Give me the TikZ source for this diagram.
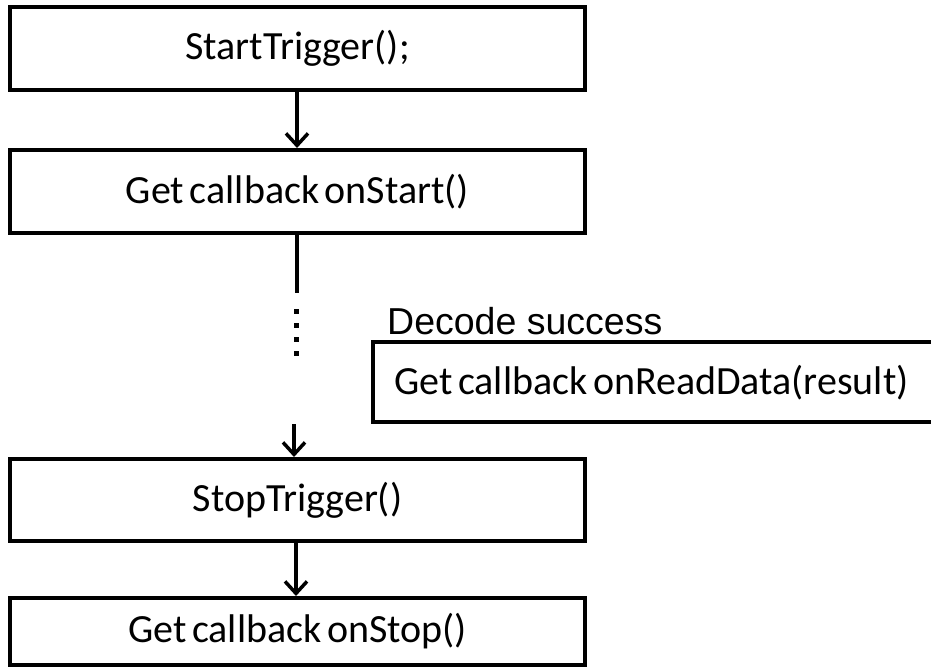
\documentclass[tikz,border=0pt]{standalone}
\usepackage{fontspec}
\setmainfont{Carlito}
\newfontfamily\arialfont{Liberation Sans}
\usetikzlibrary{arrows.meta}
\newcommand\mynarrowsp{\spaceskip=0.14em\relax}
\begin{document}
\begin{tikzpicture}[x=1pt,y=-1pt,
  cfont/.style={font=\fontsize{40}{44}\selectfont, execute at begin node=\mynarrowsp},
  box/.style={draw=black, line width=4pt, rectangle, inner sep=0pt, cfont},
  flow/.style={line width=3.5pt, -{Straight Barb[length=12pt,width=22pt,line width=3.5pt]}},
  plain/.style={line width=3.5pt}]
\clip (0,0) rectangle (931,668);
\fill[white] (0,0) rectangle (931,668);
\node[box, minimum width=575pt, minimum height=83pt] (b1) at (297.5,48.5) {StartTrigger();};
\node[box, minimum width=575pt, minimum height=83pt] (b2) at (297.5,191.5) {Get callback onStart()};
\node[box, minimum width=575pt, minimum height=82pt] (b3) at (297.5,500) {StopTrigger()};
\node[box, minimum width=575pt, minimum height=67pt] (b4) at (297.5,631.5) {Get callback onStop()};
\node[box, minimum width=600pt, minimum height=80pt, anchor=west] (r) at (371,382) {};
\node[anchor=west, cfont, inner sep=0pt] (rt) at (394,383) {Get callback onReadData(result)};
\node[anchor=west, font=\arialfont\fontsize{37.5}{42}\selectfont, inner sep=0pt] (ds) at (387,321) {Decode success};
\coordinate (c1) at (297,293);
\coordinate (d1) at (296,309);
\coordinate (d2) at (296,360);
\coordinate (c2) at (294,424);
\draw[flow] (b1.south -| 297,0) -- (b2.north -| 297,0);
\draw[plain] (b2.south -| 297,0) -- (c1);
\draw[line width=5pt, dash pattern=on 5pt off 9pt] (d1) -- (d2);
\draw[flow] (c2) -- (b3.north -| 294,0);
\draw[flow] (b3.south -| 296,0) -- (b4.north -| 296,0);
\end{tikzpicture}
\end{document}
